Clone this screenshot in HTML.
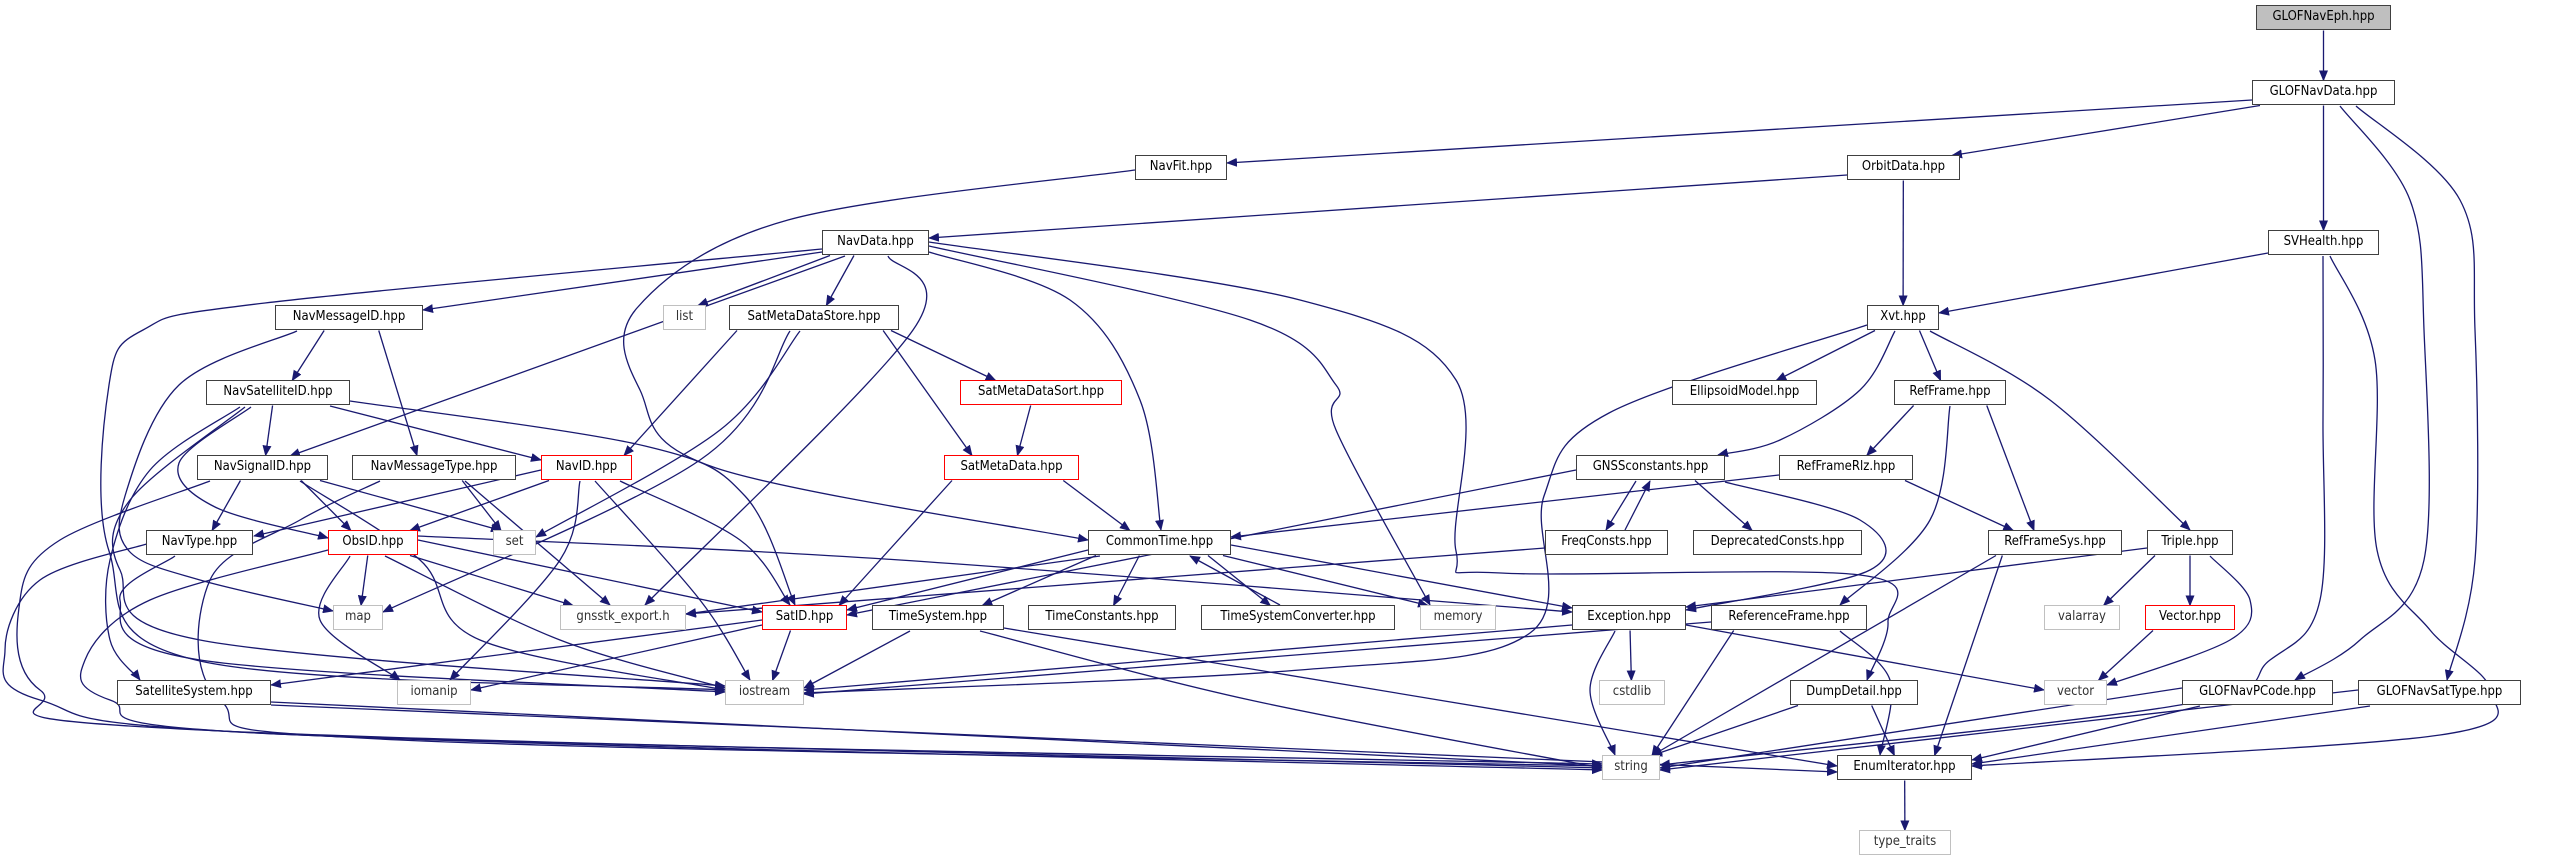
<!DOCTYPE html>
<html><head><meta charset="utf-8">
<style>
html,body{margin:0;padding:0;background:#fff;}
#c{position:relative;width:2551px;height:859px;overflow:hidden;background:#fff;}
.n{position:absolute;height:25px;box-sizing:border-box;border:1.5px solid #404040;background:#fff;
 font:13px "DejaVu Sans Condensed","DejaVu Sans","Liberation Sans",sans-serif;color:#000;
 text-align:center;line-height:22px;white-space:nowrap;z-index:2;}
.g{border-color:#c0c0c0;color:#333;}
.r{border-color:#ff0000;}
.f{background:#bfbfbf;}
svg{position:absolute;left:0;top:0;z-index:1;}
</style></head><body>
<div id="c">
<svg id="s" width="2551" height="859" viewBox="0 0 2551 859">
<defs><marker id="a" markerWidth="11" markerHeight="9" refX="10" refY="4.5" orient="auto" markerUnits="userSpaceOnUse"><path d="M0,0 L11,4.5 L0,9 z" fill="#191970"/></marker></defs>
<g id="e" fill="none" stroke="#191970" stroke-width="1.3"></g>
</svg>
<div class="n f" style="left:2256px;top:5px;width:135px">GLOFNavEph.hpp</div>
<div class="n" style="left:2252px;top:80px;width:143px">GLOFNavData.hpp</div>
<div class="n" style="left:1135px;top:155px;width:92px">NavFit.hpp</div>
<div class="n" style="left:1847px;top:155px;width:113px">OrbitData.hpp</div>
<div class="n" style="left:822px;top:230px;width:107px">NavData.hpp</div>
<div class="n" style="left:2268px;top:230px;width:111px">SVHealth.hpp</div>
<div class="n" style="left:275px;top:305px;width:148px">NavMessageID.hpp</div>
<div class="n g" style="left:663px;top:305px;width:43px">list</div>
<div class="n" style="left:729px;top:305px;width:170px">SatMetaDataStore.hpp</div>
<div class="n" style="left:1867px;top:305px;width:72px">Xvt.hpp</div>
<div class="n" style="left:206px;top:380px;width:144px">NavSatelliteID.hpp</div>
<div class="n r" style="left:960px;top:380px;width:162px">SatMetaDataSort.hpp</div>
<div class="n" style="left:1672px;top:380px;width:145px">EllipsoidModel.hpp</div>
<div class="n" style="left:1894px;top:380px;width:112px">RefFrame.hpp</div>
<div class="n" style="left:197px;top:455px;width:131px">NavSignalID.hpp</div>
<div class="n" style="left:352px;top:455px;width:164px">NavMessageType.hpp</div>
<div class="n r" style="left:541px;top:455px;width:91px">NavID.hpp</div>
<div class="n r" style="left:944px;top:455px;width:135px">SatMetaData.hpp</div>
<div class="n" style="left:1576px;top:455px;width:149px">GNSSconstants.hpp</div>
<div class="n" style="left:1779px;top:455px;width:134px">RefFrameRlz.hpp</div>
<div class="n" style="left:146px;top:530px;width:107px">NavType.hpp</div>
<div class="n r" style="left:328px;top:530px;width:90px">ObsID.hpp</div>
<div class="n g" style="left:493px;top:530px;width:43px">set</div>
<div class="n" style="left:1088px;top:530px;width:143px">CommonTime.hpp</div>
<div class="n" style="left:1545px;top:530px;width:123px">FreqConsts.hpp</div>
<div class="n" style="left:1693px;top:530px;width:169px">DeprecatedConsts.hpp</div>
<div class="n" style="left:1988px;top:530px;width:134px">RefFrameSys.hpp</div>
<div class="n" style="left:2147px;top:530px;width:86px">Triple.hpp</div>
<div class="n g" style="left:333px;top:605px;width:50px">map</div>
<div class="n g" style="left:560px;top:605px;width:126px">gnsstk_export.h</div>
<div class="n r" style="left:762px;top:605px;width:85px">SatID.hpp</div>
<div class="n" style="left:872px;top:605px;width:132px">TimeSystem.hpp</div>
<div class="n" style="left:1028px;top:605px;width:148px">TimeConstants.hpp</div>
<div class="n" style="left:1201px;top:605px;width:194px">TimeSystemConverter.hpp</div>
<div class="n g" style="left:1420px;top:605px;width:76px">memory</div>
<div class="n" style="left:1572px;top:605px;width:114px">Exception.hpp</div>
<div class="n" style="left:1711px;top:605px;width:156px">ReferenceFrame.hpp</div>
<div class="n g" style="left:2044px;top:605px;width:76px">valarray</div>
<div class="n r" style="left:2145px;top:605px;width:90px">Vector.hpp</div>
<div class="n" style="left:117px;top:680px;width:154px">SatelliteSystem.hpp</div>
<div class="n g" style="left:397px;top:680px;width:74px">iomanip</div>
<div class="n g" style="left:725px;top:680px;width:79px">iostream</div>
<div class="n g" style="left:1599px;top:680px;width:66px">cstdlib</div>
<div class="n" style="left:1790px;top:680px;width:128px">DumpDetail.hpp</div>
<div class="n g" style="left:2044px;top:680px;width:63px">vector</div>
<div class="n" style="left:2182px;top:680px;width:151px">GLOFNavPCode.hpp</div>
<div class="n" style="left:2358px;top:680px;width:163px">GLOFNavSatType.hpp</div>
<div class="n g" style="left:1602px;top:755px;width:58px">string</div>
<div class="n" style="left:1837px;top:755px;width:135px">EnumIterator.hpp</div>
<div class="n g" style="left:1859px;top:830px;width:92px">type_traits</div>
</div>
<script>
var N={GLOFNavEph:[2256,2391,0],GLOFNavData:[2252,2395,1],NavFit:[1135,1227,2],OrbitData:[1847,1960,2],NavData:[822,929,3],SVHealth:[2268,2379,3],NavMessageID:[275,423,4],list:[663,706,4],SatMetaDataStore:[729,899,4],Xvt:[1867,1939,4],NavSatelliteID:[206,350,5],SatMetaDataSort:[960,1122,5],EllipsoidModel:[1672,1817,5],RefFrame:[1894,2006,5],NavSignalID:[197,328,6],NavMessageType:[352,516,6],NavID:[541,632,6],SatMetaData:[944,1079,6],GNSSconstants:[1576,1725,6],RefFrameRlz:[1779,1913,6],NavType:[146,253,7],ObsID:[328,418,7],set:[493,536,7],CommonTime:[1088,1231,7],FreqConsts:[1545,1668,7],DeprecatedConsts:[1693,1862,7],RefFrameSys:[1988,2122,7],Triple:[2147,2233,7],map:[333,383,8],gnsstk:[560,686,8],SatID:[762,847,8],TimeSystem:[872,1004,8],TimeConstants:[1028,1176,8],TSC:[1201,1395,8],memory:[1420,1496,8],Exception:[1572,1686,8],ReferenceFrame:[1711,1867,8],valarray:[2044,2120,8],Vector:[2145,2235,8],SatelliteSystem:[117,271,9],iomanip:[397,471,9],iostream:[725,804,9],cstdlib:[1599,1665,9],DumpDetail:[1790,1918,9],vector:[2044,2107,9],GLOFNavPCode:[2182,2333,9],GLOFNavSatType:[2358,2521,9],string:[1602,1660,10],EnumIterator:[1837,1972,10],type_traits:[1859,1951,11]};
function cy(n){return 18+75*N[n][2];}
function cl(v,a,b){return Math.max(a,Math.min(b,v));}
var E=[
['GLOFNavEph','GLOFNavData'],['GLOFNavData','SVHealth'],['GLOFNavData','OrbitData'],
['GLOFNavData','NavFit',[[2252,100],[1227,163]]],
['GLOFNavData','GLOFNavPCode',[[2340,106],[2410,200],[2424,330],[2424,560],[2360,640],[2295,680]]],
['GLOFNavData','GLOFNavSatType',[[2356,106],[2460,200],[2475,330],[2475,560],[2447,680]]],
['OrbitData','NavData',[[1847,175],[929,238]]],['OrbitData','Xvt'],
['SVHealth','Xvt',[[2268,253],[1939,313]]],
['SVHealth','string',[[2323,256],[2323,420],[2320,600],[2270,660],[2180,705],[1660,765]]],
['SVHealth','EnumIterator',[[2330,256],[2375,360],[2377,550],[2430,630],[2490,690],[2440,735],[1972,766]]],
['NavFit','CommonTime',[[1135,170],[788,220],[637,308],[640,390],[716,468],[1088,540]]],
['NavData','NavMessageID',[[822,252],[423,310]]],['NavData','list'],['NavData','SatMetaDataStore'],
['NavData','NavSignalID',[[845,256],[290,456]]],
['NavData','iostream',[[822,249],[265,303],[143,330],[109,385],[109,551],[200,661],[725,690]]],
['NavData','gnsstk',[[888,256],[913,330],[645,605]]],
['NavData','CommonTime',[[929,252],[1070,300],[1140,400],[1161,530]]],
['NavData','memory',[[929,246],[1250,320],[1336,385],[1336,430],[1430,605]]],
['NavData','DumpDetail',[[929,242],[1300,300],[1456,380],[1456,551],[1501,573],[1860,575],[1888,622],[1867,680]]],
['NavMessageID','NavSatelliteID'],['NavMessageID','NavMessageType'],
['NavMessageID','map',[[297,331],[179,385],[125,496],[129,551],[200,580],[333,611]]],
['NavSatelliteID','NavSignalID'],['NavSatelliteID','NavID',[[330,406],[541,460]]],
['NavSatelliteID','SatID',[[350,401],[645,446],[745,496],[795,605]]],
['NavSatelliteID','ObsID',[[251,407],[179,463],[215,507],[328,538]]],
['NavSatelliteID','SatelliteSystem',[[240,407],[150,470],[110,560],[110,640],[140,680]]],
['NavSatelliteID','iostream',[[245,407],[130,500],[120,570],[200,640],[725,686]]],
['SatMetaDataStore','NavID'],['SatMetaDataStore','set',[[800,331],[720,430],[536,537]]],
['SatMetaDataStore','map',[[790,331],[700,460],[383,612]]],
['SatMetaDataStore','SatMetaDataSort'],['SatMetaDataStore','SatMetaData'],
['SatMetaDataSort','SatMetaData'],['SatMetaData','SatID'],['SatMetaData','CommonTime'],
['NavSignalID','NavType'],['NavSignalID','ObsID'],['NavSignalID','set'],
['NavSignalID','iostream',[[300,481],[420,560],[480,640],[725,690]]],
['NavSignalID','string',[[210,481],[60,540],[20,600],[40,690],[200,730],[1602,768]]],
['NavMessageType','set'],['NavMessageType','gnsstk',[[465,481],[610,605]]],
['NavMessageType','string',[[380,481],[300,520],[210,580],[220,700],[400,740],[1602,766]]],
['NavID','NavType',[[541,470],[254,536]]],['NavID','ObsID'],['NavID','SatID',[[620,481],[740,540],[790,605]]],
['NavID','iomanip',[[580,481],[560,560],[450,680]]],['NavID','iostream',[[595,481],[700,600],[750,680]]],
['NavType','string',[[150,543],[40,580],[5,650],[40,700],[300,735],[1602,770]]],
['NavType','iostream',[[175,556],[120,600],[200,660],[725,692]]],
['ObsID','map'],['ObsID','gnsstk'],['ObsID','SatID',[[418,540],[762,612]]],
['ObsID','iomanip',[[350,556],[320,620],[400,680]]],['ObsID','iostream',[[385,556],[560,640],[725,688]]],
['ObsID','Exception',[[418,536],[900,560],[1572,612]]],
['ObsID','string',[[328,550],[150,600],[85,660],[110,700],[300,735],[1602,764]]],
['CommonTime','gnsstk',[[1100,556],[686,614]]],['CommonTime','TimeSystem'],['CommonTime','TimeConstants'],
['CommonTime','TSC'],['CommonTime','memory'],['CommonTime','Exception',[[1231,545],[1572,608]]],
['CommonTime','SatID',[[1088,550],[847,610]]],
['TSC','CommonTime',[[1280,605],[1190,556]]],
['TimeSystem','iostream',[[910,631],[804,688]]],['TimeSystem','string',[[980,631],[1250,700],[1602,768]]],
['TimeSystem','EnumIterator',[[1004,628],[1837,766]]],
['SatID','SatelliteSystem',[[762,620],[271,685]]],['SatID','iomanip',[[762,625],[471,690]]],['SatID','iostream'],
['SatelliteSystem','string',[[271,702],[1602,766]]],['SatelliteSystem','EnumIterator',[[271,705],[1837,772]]],
['Xvt','EllipsoidModel'],['Xvt','RefFrame'],['Xvt','GNSSconstants',[[1895,331],[1860,390],[1780,440],[1718,455]]],
['Xvt','Triple',[[1930,331],[2050,400],[2190,530]]],
['Xvt','iostream',[[1867,325],[1609,413],[1544,496],[1530,633],[1300,670],[804,693]]],
['RefFrame','RefFrameRlz'],['RefFrame','RefFrameSys'],['RefFrame','ReferenceFrame',[[1950,406],[1930,520],[1840,605]]],
['RefFrameRlz','RefFrameSys'],['RefFrameRlz','CommonTime',[[1779,475],[1231,537]]],
['GNSSconstants','FreqConsts',[[1636,481],[1606,530]]],['GNSSconstants','DeprecatedConsts'],
['GNSSconstants','SatID',[[1576,470],[847,615]]],
['GNSSconstants','Exception',[[1725,482],[1860,520],[1870,570],[1686,610]]],
['FreqConsts','GNSSconstants',[[1625,530],[1650,481]]],['FreqConsts','gnsstk',[[1545,548],[686,614]]],
['RefFrameSys','string'],['RefFrameSys','EnumIterator'],
['Triple','Exception',[[2147,548],[1686,607]]],['Triple','valarray'],['Triple','Vector'],
['Triple','vector',[[2210,556],[2250,600],[2230,640],[2107,685]]],
['Vector','vector'],
['Exception','cstdlib'],['Exception','string',[[1615,631],[1590,690],[1615,755]]],['Exception','vector',[[1686,625],[2044,690]]],
['Exception','iostream',[[1572,625],[804,690]]],
['ReferenceFrame','string'],['ReferenceFrame','EnumIterator',[[1840,631],[1890,680],[1880,755]]],['ReferenceFrame','iostream',[[1711,622],[804,694]]],
['DumpDetail','string'],['DumpDetail','EnumIterator'],
['GLOFNavPCode','string',[[2182,688],[1660,768]]],['GLOFNavPCode','EnumIterator',[[2200,706],[1972,760]]],
['GLOFNavSatType','string',[[2358,690],[1660,770]]],['GLOFNavSatType','EnumIterator',[[2370,706],[1972,764]]],
['EnumIterator','type_traits']
];
function ctrl(p){
 if(p.length==2)return 'M'+p[0]+' L'+p[1];
 var d='M'+p[0];
 for(var i=0;i<p.length-1;i++){
  var p0=p[i-1]||p[i],p1=p[i],p2=p[i+1],p3=p[i+2]||p2;
  var c1=[p1[0]+(p2[0]-p0[0])/6,p1[1]+(p2[1]-p0[1])/6];
  var c2=[p2[0]-(p3[0]-p1[0])/6,p2[1]-(p3[1]-p1[1])/6];
  d+=' C'+c1+' '+c2+' '+p2;
 }
 return d;
}
var g=document.getElementById('e'),h='';
E.forEach(function(e){
 var a=N[e[0]],b=N[e[1]],pts=e[2];
 if(!pts){
  var acx=(a[0]+a[1])/2,bcx=(b[0]+b[1])/2,ay=cy(e[0]),by=cy(e[1]);
  var down=by>ay;
  var sx=cl(acx+(bcx-acx)*0.35,a[0]+8,a[1]-8),ex=cl(bcx+(acx-bcx)*0.2,b[0]+8,b[1]-8);
  pts=[[sx,down?ay+12.5:ay-12.5],[ex,down?by-12.5:by+12.5]];
 }
 h+='<path d="'+ctrl(pts)+'" marker-end="url(#a)"/>';
});
g.innerHTML=h;
</script>
</body></html>
